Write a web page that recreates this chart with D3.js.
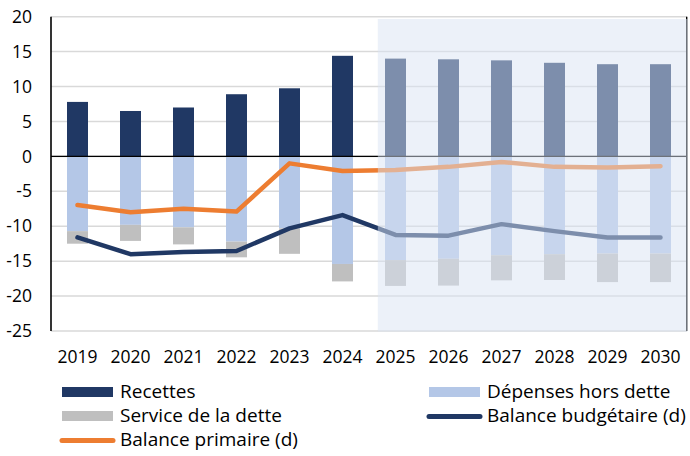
<!DOCTYPE html>
<html>
<head>
<meta charset="utf-8">
<script src="https://cdn.jsdelivr.net/npm/d3@7"></script>
<style>
  body { margin: 0; background: #fff; }
  text { font-family: "Open Sans", sans-serif; fill: #000; }
</style>
</head>
<body>
<div id="chart"></div>
<script>
const years = ["2019", "2020", "2021", "2022", "2023", "2024", "2025", "2026", "2027", "2028", "2029", "2030"];
const recettes = [7.8, 6.5, 7.0, 8.9, 9.75, 14.4, 14.0, 13.9, 13.75, 13.4, 13.2, 13.2];
const depensesHorsDette = [-10.7, -9.8, -10.15, -12.2, -10.3, -15.4, -14.85, -14.65, -14.15, -14.0, -13.9, -13.9];
const serviceDette = [-1.8, -2.3, -2.45, -2.25, -3.65, -2.5, -3.7, -3.85, -3.6, -3.7, -4.1, -4.1];
const balanceBudgetaire = [-11.6, -14.0, -13.7, -13.55, -10.3, -8.4, -11.25, -11.35, -9.7, -10.7, -11.6, -11.6];
const balancePrimaire = [-6.95, -8.0, -7.5, -7.9, -1.0, -2.1, -1.95, -1.5, -0.8, -1.5, -1.6, -1.4];
const yTicks = [-25, -20, -15, -10, -5, 0, 5, 10, 15, 20];
const projectionStart = "2025";

const width = 690, height = 456;
const plot = { left: 51, right: 687, top: 16.7, bottom: 331 };

const svg = d3.select("#chart")
    .append("svg")
    .attr("width", width)
    .attr("height", height);

const x = d3.scaleBand()
    .domain(years)
    .range([plot.left, plot.right])
    .paddingInner(32 / 53)
    .paddingOuter(16 / 53);

const y = d3.scaleLinear()
    .domain([-25, 20])
    .range([plot.bottom, plot.top]);

const cx = d => x(d) + x.bandwidth() / 2;

// gridlines
svg.append("g")
    .selectAll("line")
    .data(yTicks)
    .enter()
    .append("line")
    .attr("x1", plot.left)
    .attr("x2", plot.right)
    .attr("y1", d => y(d))
    .attr("y2", d => y(d))
    .attr("stroke", "#d9d9d9")
    .attr("stroke-width", 1.5);

// bars
const barSeries = [
    { values: recettes, base: () => 0, color: "#203864" },
    { values: depensesHorsDette, base: () => 0, color: "#b4c7e7" },
    { values: serviceDette, base: i => depensesHorsDette[i], color: "#bfbfbf" }
];

barSeries.forEach(s => {
    svg.append("g")
        .selectAll("rect")
        .data(years)
        .enter()
        .append("rect")
        .attr("x", d => x(d))
        .attr("width", x.bandwidth())
        .attr("y", (d, i) => y(Math.max(s.base(i), s.base(i) + s.values[i])))
        .attr("height", (d, i) => Math.abs(y(s.base(i)) - y(s.base(i) + s.values[i])))
        .attr("fill", s.color);
});

// zero line and axis lines
svg.append("line")
    .attr("x1", plot.left).attr("x2", plot.right)
    .attr("y1", y(0)).attr("y2", y(0))
    .attr("stroke", "#000").attr("stroke-width", 1.4);

svg.append("line")
    .attr("x1", plot.left).attr("x2", plot.left)
    .attr("y1", plot.top).attr("y2", plot.bottom)
    .attr("stroke", "#000").attr("stroke-width", 1.6);

svg.append("line")
    .attr("x1", plot.right - 0.3).attr("x2", plot.right - 0.3)
    .attr("y1", plot.top).attr("y2", plot.bottom)
    .attr("stroke", "#000").attr("stroke-width", 1.4);

// lines
const line = d3.line()
    .x(d => cx(d.year))
    .y(d => y(d.value));

const lineSeries = [
    { values: balancePrimaire, color: "#ed7d31" },
    { values: balanceBudgetaire, color: "#203864" }
];

lineSeries.forEach(s => {
    svg.append("path")
        .datum(years.map((yr, i) => ({ year: yr, value: s.values[i] })))
        .attr("d", line)
        .attr("fill", "none")
        .attr("stroke", s.color)
        .attr("stroke-width", 4.5)
        .attr("stroke-linejoin", "round")
        .attr("stroke-linecap", "round");
});

// projection shading drawn over the marks
const shadeX0 = cx(projectionStart) - x.step() / 3;
svg.append("rect")
    .attr("x", shadeX0)
    .attr("y", 19)
    .attr("width", plot.right + 0.5 - shadeX0)
    .attr("height", plot.bottom + 0.5 - 19)
    .attr("fill", "#dae3f3")
    .attr("opacity", 0.5);

// y axis labels
svg.append("g")
    .selectAll("text")
    .data(yTicks)
    .enter()
    .append("text")
    .attr("x", 32)
    .attr("y", d => y(d))
    .attr("dy", "0.35em")
    .attr("text-anchor", "end")
    .style("font-size", "17.5px")
    .text(d => d);

// x axis labels
svg.append("g")
    .selectAll("text")
    .data(years)
    .enter()
    .append("text")
    .attr("x", d => cx(d))
    .attr("y", 363.3)
    .attr("text-anchor", "middle")
    .style("font-size", "17.5px")
    .text(d => d);

// legend
const legendItems = [
    { label: "Recettes", type: "rect", color: "#203864", x: 62, y: 397.5 },
    { label: "Dépenses hors dette", type: "rect", color: "#b4c7e7", x: 429, y: 397.5 },
    { label: "Service de la dette", type: "rect", color: "#bfbfbf", x: 62, y: 421.5 },
    { label: "Balance budgétaire (d)", type: "line", color: "#203864", x: 429, y: 421.5 },
    { label: "Balance primaire (d)", type: "line", color: "#ed7d31", x: 62, y: 445.5 }
];

const legend = svg.append("g");
legendItems.forEach(d => {
    if (d.type === "rect") {
        legend.append("rect")
            .attr("x", d.x).attr("y", d.y - 10.5)
            .attr("width", 51).attr("height", 10)
            .attr("fill", d.color);
    } else {
        legend.append("line")
            .attr("x1", d.x).attr("x2", d.x + 51)
            .attr("y1", d.y - 5).attr("y2", d.y - 5)
            .attr("stroke", d.color)
            .attr("stroke-width", 5)
            .attr("stroke-linecap", "round");
    }
    legend.append("text")
        .attr("x", d.x + 58)
        .attr("y", d.y)
        .style("font-size", "19px")
        .text(d.label);
});
</script>
</body>
</html>
